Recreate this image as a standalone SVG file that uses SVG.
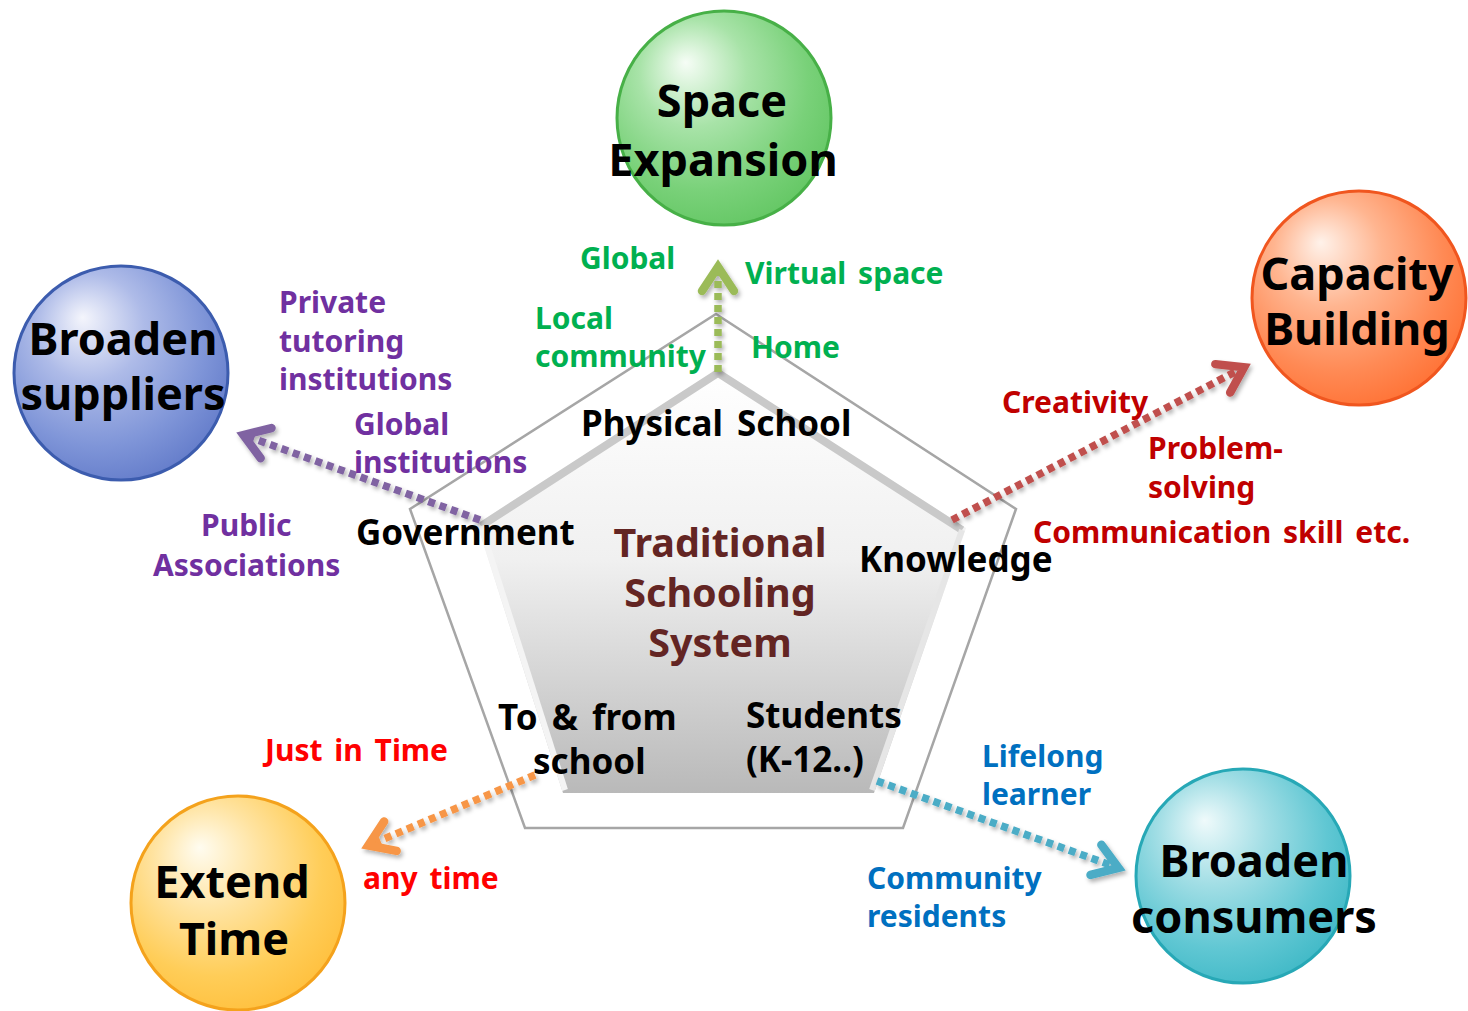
<svg xmlns="http://www.w3.org/2000/svg" width="1468" height="1011" viewBox="0 0 1468 1011">
<style>
text{font-family:"Noto Sans","Open Sans","DejaVu Sans",sans-serif;font-weight:bold}
.ct{font-size:45px;fill:#000;text-anchor:middle}
.bl{font-size:35px;fill:#000;word-spacing:5px}
.lb{font-size:30px;word-spacing:4px}
.gr{fill:#00b050}.pu{fill:#7030a0}.dr{fill:#c00000}.rd{fill:#ff0000}.bu{fill:#0070c0}
.tr{font-size:39.5px;fill:#632523;text-anchor:middle}
.dash{fill:none;stroke-width:7.5;stroke-dasharray:7 5}
.ah{fill:none;stroke-width:8.5;stroke-linecap:round;stroke-linejoin:miter;stroke-dasharray:none}
.circ{stroke-width:3}
</style>
<defs>
<filter id="sh" x="-20%" y="-20%" width="140%" height="140%">
<feDropShadow dx="2" dy="3" stdDeviation="2" flood-color="#000" flood-opacity="0.3"/>
</filter>
<radialGradient id="gGreen" cx="0.42" cy="0.38" r="0.72" fx="0.32" fy="0.24">
<stop offset="0" stop-color="#f6fdf6"/><stop offset="0.35" stop-color="#a8e3a8"/><stop offset="0.7" stop-color="#79d179"/><stop offset="1" stop-color="#5ec45e"/>
</radialGradient>
<radialGradient id="gOrange" cx="0.42" cy="0.38" r="0.72" fx="0.32" fy="0.24">
<stop offset="0" stop-color="#fff2ea"/><stop offset="0.35" stop-color="#ffb590"/><stop offset="0.7" stop-color="#ff8a55"/><stop offset="1" stop-color="#ff6b2c"/>
</radialGradient>
<radialGradient id="gBlue" cx="0.42" cy="0.38" r="0.72" fx="0.32" fy="0.24">
<stop offset="0" stop-color="#f4f5fc"/><stop offset="0.35" stop-color="#aebbe8"/><stop offset="0.7" stop-color="#7f95d8"/><stop offset="1" stop-color="#5c75c6"/>
</radialGradient>
<radialGradient id="gYellow" cx="0.42" cy="0.38" r="0.72" fx="0.32" fy="0.24">
<stop offset="0" stop-color="#fffcf0"/><stop offset="0.35" stop-color="#ffe3a0"/><stop offset="0.7" stop-color="#ffcd58"/><stop offset="1" stop-color="#ffbc36"/>
</radialGradient>
<radialGradient id="gTeal" cx="0.42" cy="0.38" r="0.72" fx="0.32" fy="0.24">
<stop offset="0" stop-color="#effafb"/><stop offset="0.35" stop-color="#a2dee5"/><stop offset="0.7" stop-color="#60c7d3"/><stop offset="1" stop-color="#37b5c3"/>
</radialGradient>
<linearGradient id="gPent" x1="0" y1="0" x2="0" y2="1">
<stop offset="0" stop-color="#ffffff"/><stop offset="0.45" stop-color="#f0f0f0"/><stop offset="1" stop-color="#b9b9b9"/>
</linearGradient>
<marker id="mGreen" markerUnits="userSpaceOnUse" markerWidth="60" markerHeight="60" viewBox="-50 -30 60 60" refX="-14" refY="0" orient="auto" overflow="visible">
<path class="ah" stroke="#9bbb59" d="M-33,-16 L-9,0 L-33,16"/></marker>
<marker id="mPurple" markerUnits="userSpaceOnUse" markerWidth="60" markerHeight="60" viewBox="-50 -30 60 60" refX="-14" refY="0" orient="auto" overflow="visible">
<path class="ah" stroke="#8064a2" d="M-33,-16 L-9,0 L-33,16"/></marker>
<marker id="mRed" markerUnits="userSpaceOnUse" markerWidth="60" markerHeight="60" viewBox="-50 -30 60 60" refX="-14" refY="0" orient="auto" overflow="visible">
<path class="ah" stroke="#c0504d" d="M-33,-16 L-9,0 L-33,16"/></marker>
<marker id="mOrange" markerUnits="userSpaceOnUse" markerWidth="60" markerHeight="60" viewBox="-50 -30 60 60" refX="-14" refY="0" orient="auto" overflow="visible">
<path class="ah" stroke="#f79646" d="M-33,-16 L-9,0 L-33,16"/></marker>
<marker id="mBlue" markerUnits="userSpaceOnUse" markerWidth="60" markerHeight="60" viewBox="-50 -30 60 60" refX="-14" refY="0" orient="auto" overflow="visible">
<path class="ah" stroke="#4bacc6" d="M-33,-16 L-9,0 L-33,16"/></marker>
</defs>

<rect width="1468" height="1011" fill="#ffffff"/>

<g id="pentagon">
<polygon points="716,314 1016,509 903,828 525,828 410,509" fill="#ffffff" stroke="#a6a6a6" stroke-width="2.5"/>
<polygon points="718,369 966,528 874,793 563,793 477,524" fill="url(#gPent)"/>
<polyline points="481,526 718,373 962,530" fill="none" stroke="#c9c9c9" stroke-width="8" stroke-linejoin="miter"/>
<line x1="962" y1="530" x2="872" y2="790" stroke="#e6e6e6" stroke-width="6"/>
<line x1="481" y1="526" x2="565" y2="790" stroke="#f4f4f4" stroke-width="6"/>
</g>

<g id="connectors" filter="url(#sh)">
<line class="dash" stroke="#9bbb59" x1="718" y1="372" x2="718" y2="272" marker-end="url(#mGreen)"/>
<line class="dash" stroke="#8064a2" x1="480" y1="520" x2="248.2" y2="436.7" marker-end="url(#mPurple)"/>
<line class="dash" stroke="#c0504d" x1="952" y1="520" x2="1239.6" y2="369.5" marker-end="url(#mRed)"/>
<line class="dash" stroke="#f79646" x1="535" y1="775" x2="372.9" y2="843.6" marker-end="url(#mOrange)"/>
<line class="dash" stroke="#4bacc6" x1="877" y1="781" x2="1113.8" y2="866.3" marker-end="url(#mBlue)"/>
</g>

<g id="node-space">
<circle class="circ" cx="724" cy="118" r="107" fill="url(#gGreen)" stroke="#47b047"/>
<text class="ct" x="722" y="117">Space</text>
<text class="ct" x="723" y="176">Expansion</text>
</g>
<g id="node-capacity">
<circle class="circ" cx="1359" cy="298" r="107" fill="url(#gOrange)" stroke="#f0561f"/>
<text class="ct" x="1357" y="290">Capacity</text>
<text class="ct" x="1357" y="345">Building</text>
</g>
<g id="node-suppliers">
<circle class="circ" cx="121" cy="373" r="107" fill="url(#gBlue)" stroke="#3c5cae"/>
<text class="ct" x="123" y="355">Broaden</text>
<text class="ct" x="123" y="410">suppliers</text>
</g>
<g id="node-time">
<circle class="circ" cx="238" cy="903" r="107" fill="url(#gYellow)" stroke="#f4a21c"/>
<text class="ct" x="232" y="898">Extend</text>
<text class="ct" x="234" y="955">Time</text>
</g>
<g id="node-consumers">
<circle class="circ" cx="1243" cy="876" r="107" fill="url(#gTeal)" stroke="#27a8b6"/>
<text class="ct" x="1254" y="877">Broaden</text>
<text class="ct" x="1254" y="933">consumers</text>
</g>

<g id="node-center">
<text class="tr" x="720" y="557">Traditional</text>
<text class="tr" x="720" y="607">Schooling</text>
<text class="tr" x="720" y="657">System</text>
</g>

<g id="labels-black">
<text class="bl" x="581" y="436">Physical School</text>
<text class="bl" x="356" y="545">Government</text>
<text class="bl" x="859" y="572">Knowledge</text>
<text class="bl" x="498" y="730">To &amp; from</text>
<text class="bl" x="533" y="774">school</text>
<text class="bl" x="746" y="728">Students</text>
<text class="bl" x="746" y="772">(K-12..)</text>
</g>

<g id="labels-space">
<text class="lb gr" x="580" y="269">Global</text>
<text class="lb gr" x="745" y="284">Virtual space</text>
<text class="lb gr" x="535" y="329">Local</text>
<text class="lb gr" x="535" y="367">community</text>
<text class="lb gr" x="751" y="358">Home</text>
</g>
<g id="labels-suppliers">
<text class="lb pu" x="279" y="313">Private</text>
<text class="lb pu" x="279" y="352">tutoring</text>
<text class="lb pu" x="279" y="390">institutions</text>
<text class="lb pu" x="354" y="435">Global</text>
<text class="lb pu" x="354" y="473">institutions</text>
<text class="lb pu" x="201" y="536">Public</text>
<text class="lb pu" x="153" y="576">Associations</text>
</g>
<g id="labels-capacity">
<text class="lb dr" x="1002" y="413">Creativity</text>
<text class="lb dr" x="1148" y="459">Problem-</text>
<text class="lb dr" x="1148" y="498">solving</text>
<text class="lb dr" x="1033" y="543">Communication skill etc.</text>
</g>
<g id="labels-time">
<text class="lb rd" x="265" y="761">Just in Time</text>
<text class="lb rd" x="363" y="889">any time</text>
</g>
<g id="labels-consumers">
<text class="lb bu" x="982" y="767">Lifelong</text>
<text class="lb bu" x="982" y="805">learner</text>
<text class="lb bu" x="867" y="889">Community</text>
<text class="lb bu" x="867" y="927">residents</text>
</g>
</svg>
